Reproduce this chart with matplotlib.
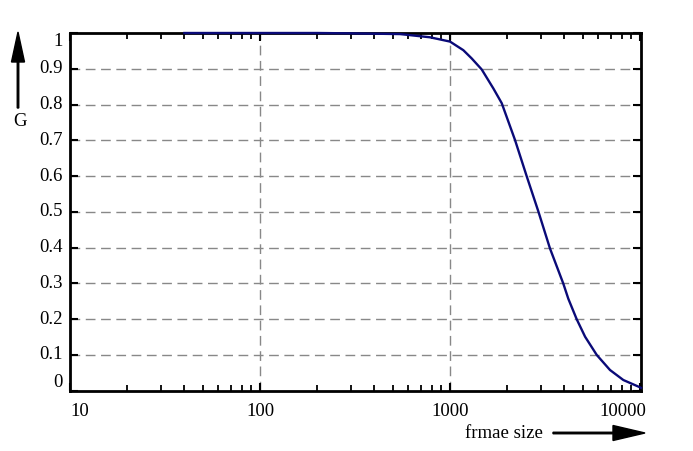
import matplotlib
matplotlib.use("Agg")
import matplotlib.pyplot as plt
import matplotlib.transforms as mtransforms
from matplotlib.patches import FancyArrow
from matplotlib.ticker import FixedLocator, NullFormatter

# ---- data ----
frame_size = [40, 100, 200, 300, 546, 695, 785, 886, 1000, 1175, 1300, 1469, 1691, 1871,
              2198, 2535, 2918, 3357, 3944, 4195, 4642, 5140, 5920, 6950, 8170, 10000, 10120]
gain = [1.0, 1.0, 1.0, 0.999, 0.997, 0.991, 0.988, 0.982, 0.976, 0.952, 0.929, 0.898, 0.845, 0.804,
        0.701, 0.599, 0.501, 0.398, 0.300, 0.257, 0.200, 0.151, 0.100, 0.058, 0.030, 0.0096, 0.008]

x_ticks = [10, 100, 1000, 10000]
x_tick_labels = ["10", "100", "1000", "10000"]
y_ticks = [0, 0.1, 0.2, 0.3, 0.4, 0.5, 0.6, 0.7, 0.8, 0.9, 1.0]
y_tick_labels = ["0", "0.1", "0.2", "0.3", "0.4", "0.5", "0.6", "0.7", "0.8", "0.9", "1"]
x_label = "frmae size"
y_label = "G"

plt.rcParams["font.family"] = ["Liberation Serif", "DejaVu Serif"]
FS = 13.5

W, H = 693, 451
fig = plt.figure(figsize=(W / 100, H / 100), dpi=100)
ax = fig.add_axes([70 / W, 1 - 390.75 / H, (641 - 70) / W, (390.75 - 33) / H])

ax.plot(frame_size, gain, color="#0a0a78", lw=1.7, clip_on=False, zorder=5,
        solid_joinstyle="round")

ax.set_xscale("log")
ax.set_xlim(10, 10120)
ax.set_ylim(0, 1)

ax.xaxis.set_major_locator(FixedLocator(x_ticks))
minor = [m * d for d in (10, 100, 1000) for m in range(2, 10)]
ax.xaxis.set_minor_locator(FixedLocator(minor))
ax.yaxis.set_major_locator(FixedLocator(y_ticks))
ax.xaxis.set_major_formatter(NullFormatter())
ax.xaxis.set_minor_formatter(NullFormatter())
ax.yaxis.set_major_formatter(NullFormatter())

ax.tick_params(which="both", direction="in", top=True, right=True, color="black")
ax.tick_params(which="major", length=6, width=1.5)
ax.tick_params(which="minor", length=4, width=1.3)

for s in ax.spines.values():
    s.set_linewidth(2)

# grid lines
for xv in x_ticks[1:-1]:
    ax.axvline(xv, color="#888888", lw=1, ls=(0, (7, 4)), zorder=1)
for yv in y_ticks[1:-1]:
    ax.axhline(yv, color="#888888", lw=1, ls=(0, (7, 4)), zorder=1)

# tick labels
xtr = mtransforms.blended_transform_factory(ax.transData, ax.transAxes)
for v, lab in zip(x_ticks, x_tick_labels):
    if v == x_ticks[0]:
        ha, off = "left", 0
    elif v == x_ticks[-1]:
        ha, off = "center", -17
    else:
        ha, off = "center", 0
    t = mtransforms.offset_copy(xtr, fig=fig, x=off, y=-12, units="dots")
    ax.text(v, 0, lab, transform=t, ha=ha, va="top", fontsize=FS)

ytr = mtransforms.blended_transform_factory(ax.transAxes, ax.transData)
yt = mtransforms.offset_copy(ytr, fig=fig, x=-7, y=0, units="dots")
for v, lab in zip(y_ticks, y_tick_labels):
    if v == y_ticks[0]:
        va = "bottom"
    elif v == y_ticks[-1]:
        va = "top"
    else:
        va = "center"
    ax.text(0, v, lab, transform=yt, ha="right", va=va, fontsize=FS)

# axis labels with arrows (figure pixel coordinates, origin bottom-left)
ident = mtransforms.IdentityTransform()
fig.add_artist(FancyArrow(18, H - 108, 0, 76, width=1.5, head_width=13, head_length=30,
                          length_includes_head=True, color="black", transform=ident))
fig.text(20 / W, 1 - 122 / H, y_label, ha="center", va="center", fontsize=FS)

fig.add_artist(FancyArrow(553, H - 433, 92, 0, width=1.5, head_width=15, head_length=32,
                          length_includes_head=True, color="black", transform=ident))
fig.text(504 / W, 1 - 433 / H, x_label, ha="center", va="center", fontsize=FS)

fig.savefig("out.png", dpi=100)
